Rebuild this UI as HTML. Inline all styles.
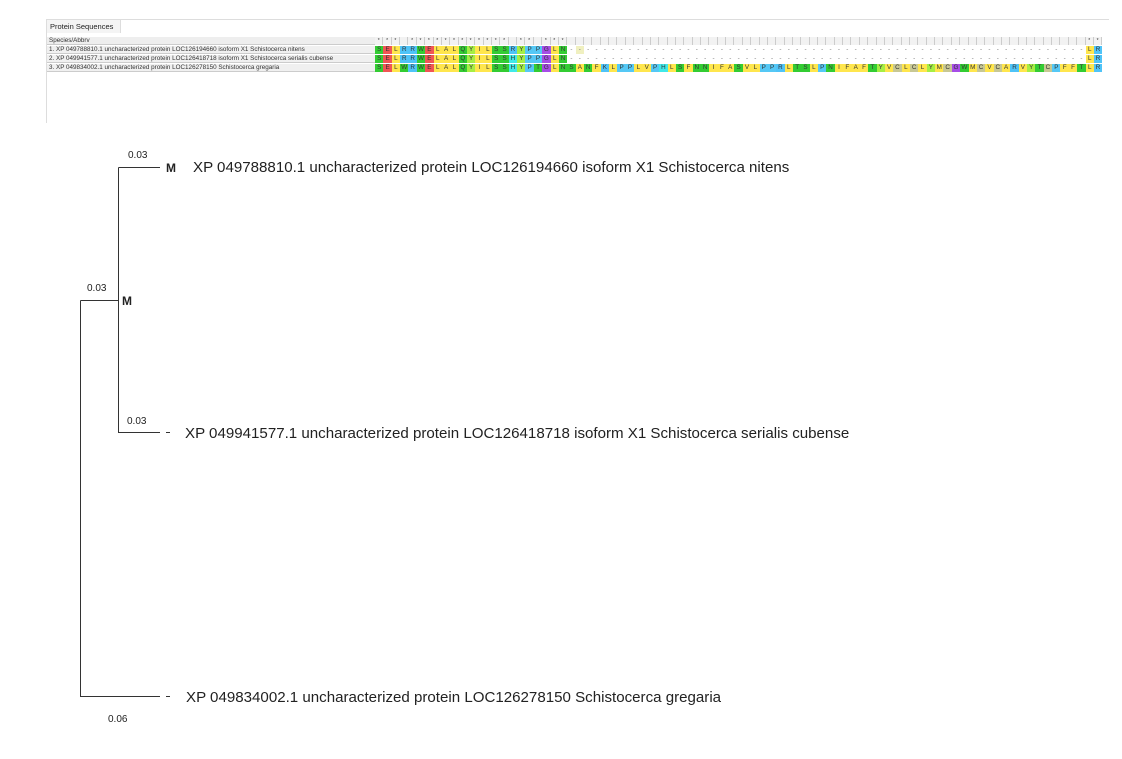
<!DOCTYPE html>
<html><head><meta charset="utf-8"><style>
body{margin:0;width:1122px;height:759px;background:#fff;position:relative;overflow:hidden;font-family:"Liberation Sans",sans-serif}
.panel{position:absolute;left:46px;top:19px;width:1062px;height:103px;border-top:1px solid #ddd;border-left:1px solid #ddd;background:#fff}
.tab{position:absolute;left:47px;top:20px;width:74px;height:13px;background:#f4f4f4;border-right:1px solid #ddd;font-size:7.5px;color:#222;line-height:13px;padding-left:3px;box-sizing:border-box}
.row{position:absolute;left:47px;height:8px;display:flex;font-size:6.3px;line-height:8px;color:#333}
.nm{width:328px;background:#f0f0f0;border-bottom:1px solid #ccc;padding-left:2px;box-sizing:border-box;white-space:nowrap;overflow:hidden}
.seq{display:flex}
.seq i{font-style:normal;width:8.37px;flex:none;text-align:center;display:block;color:#333}
.hd i{background:#f2f2f2;border-right:1px solid #ccc;box-sizing:border-box;font-size:5px}
.g{background:#33cc33}.r{background:#f05555}.y{background:#ffe64d}.b{background:#4fc3f7}.h{background:#40e8e8}.l{background:#a6ee44}.p{background:#55c8f5}.u{background:#a64de6}.c{background:#c8c894}.w{background:#fff;color:#777!important}.q{background:#f0f0c0;color:#777!important}
svg{position:absolute;left:0;top:0}
</style></head><body>
<div class="panel"></div>
<div class="tab">Protein Sequences</div>
<div class="row" style="top:37px"><div class="nm" style="background:#eee">Species/Abbrv</div><div class="seq hd"><i>*</i><i>*</i><i>*</i><i></i><i>*</i><i>*</i><i>*</i><i>*</i><i>*</i><i>*</i><i>*</i><i>*</i><i>*</i><i>*</i><i>*</i><i>*</i><i></i><i>*</i><i>*</i><i></i><i>*</i><i>*</i><i>*</i>
<i></i><i></i><i></i><i></i><i></i><i></i><i></i><i></i><i></i><i></i>
<i></i><i></i><i></i><i></i><i></i><i></i><i></i><i></i><i></i><i></i>
<i></i><i></i><i></i><i></i><i></i><i></i><i></i><i></i><i></i><i></i>
<i></i><i></i><i></i><i></i><i></i><i></i><i></i><i></i><i></i><i></i>
<i></i><i></i><i></i><i></i><i></i><i></i><i></i><i></i><i></i><i></i>
<i></i><i></i><i></i><i></i><i></i><i></i><i></i><i></i><i></i><i></i>
<i></i><i></i><i>*</i><i>*</i></div></div>
<div class="row" style="top:46px"><div class="nm">1. XP 049788810.1 uncharacterized protein LOC126194660 isoform X1 Schistocerca nitens</div><div class="seq"><i class=g>S</i><i class=r>E</i><i class=y>L</i><i class=b>R</i><i class=b>R</i><i class=g>W</i><i class=r>E</i><i class=y>L</i><i class=y>A</i><i class=y>L</i><i class=g>Q</i><i class=l>Y</i><i class=y>I</i><i class=y>L</i><i class=g>S</i><i class=g>S</i><i class=b>R</i><i class=l>Y</i><i class=p>P</i><i class=p>P</i><i class=u>G</i><i class=y>L</i><i class=g>N</i><i class=w>-</i><i class=q>-</i>
<i class=w>-</i><i class=w>-</i><i class=w>-</i><i class=w>-</i><i class=w>-</i><i class=w>-</i><i class=w>-</i><i class=w>-</i><i class=w>-</i><i class=w>-</i>
<i class=w>-</i><i class=w>-</i><i class=w>-</i><i class=w>-</i><i class=w>-</i><i class=w>-</i><i class=w>-</i><i class=w>-</i><i class=w>-</i><i class=w>-</i>
<i class=w>-</i><i class=w>-</i><i class=w>-</i><i class=w>-</i><i class=w>-</i><i class=w>-</i><i class=w>-</i><i class=w>-</i><i class=w>-</i><i class=w>-</i>
<i class=w>-</i><i class=w>-</i><i class=w>-</i><i class=w>-</i><i class=w>-</i><i class=w>-</i><i class=w>-</i><i class=w>-</i><i class=w>-</i><i class=w>-</i>
<i class=w>-</i><i class=w>-</i><i class=w>-</i><i class=w>-</i><i class=w>-</i><i class=w>-</i><i class=w>-</i><i class=w>-</i><i class=w>-</i><i class=w>-</i>
<i class=w>-</i><i class=w>-</i><i class=w>-</i><i class=w>-</i><i class=w>-</i><i class=w>-</i><i class=w>-</i><i class=w>-</i><i class=w>-</i><i class=w>-</i>
<i class=y>L</i><i class=b>R</i></div></div>
<div class="row" style="top:55px"><div class="nm">2. XP 049941577.1 uncharacterized protein LOC126418718 isoform X1 Schistocerca serialis cubense</div><div class="seq"><i class=g>S</i><i class=r>E</i><i class=y>L</i><i class=b>R</i><i class=b>R</i><i class=g>W</i><i class=r>E</i><i class=y>L</i><i class=y>A</i><i class=y>L</i><i class=g>Q</i><i class=l>Y</i><i class=y>I</i><i class=y>L</i><i class=g>S</i><i class=g>S</i><i class=h>H</i><i class=l>Y</i><i class=p>P</i><i class=p>P</i><i class=u>G</i><i class=y>L</i><i class=g>N</i><i class=w>-</i><i class=w>-</i>
<i class=w>-</i><i class=w>-</i><i class=w>-</i><i class=w>-</i><i class=w>-</i><i class=w>-</i><i class=w>-</i><i class=w>-</i><i class=w>-</i><i class=w>-</i>
<i class=w>-</i><i class=w>-</i><i class=w>-</i><i class=w>-</i><i class=w>-</i><i class=w>-</i><i class=w>-</i><i class=w>-</i><i class=w>-</i><i class=w>-</i>
<i class=w>-</i><i class=w>-</i><i class=w>-</i><i class=w>-</i><i class=w>-</i><i class=w>-</i><i class=w>-</i><i class=w>-</i><i class=w>-</i><i class=w>-</i>
<i class=w>-</i><i class=w>-</i><i class=w>-</i><i class=w>-</i><i class=w>-</i><i class=w>-</i><i class=w>-</i><i class=w>-</i><i class=w>-</i><i class=w>-</i>
<i class=w>-</i><i class=w>-</i><i class=w>-</i><i class=w>-</i><i class=w>-</i><i class=w>-</i><i class=w>-</i><i class=w>-</i><i class=w>-</i><i class=w>-</i>
<i class=w>-</i><i class=w>-</i><i class=w>-</i><i class=w>-</i><i class=w>-</i><i class=w>-</i><i class=w>-</i><i class=w>-</i><i class=w>-</i><i class=w>-</i>
<i class=y>L</i><i class=b>R</i></div></div>
<div class="row" style="top:64px"><div class="nm">3. XP 049834002.1 uncharacterized protein LOC126278150 Schistocerca gregaria</div><div class="seq"><i class=g>S</i><i class=r>E</i><i class=y>L</i><i class=g>W</i><i class=b>R</i><i class=g>W</i><i class=r>E</i><i class=y>L</i><i class=y>A</i><i class=y>L</i><i class=g>Q</i><i class=l>Y</i><i class=y>I</i><i class=y>L</i><i class=g>S</i><i class=g>S</i><i class=h>H</i><i class=l>Y</i><i class=p>P</i><i class=g>T</i><i class=u>G</i><i class=y>L</i><i class=g>N</i><i class=g>S</i><i class=y>A</i><i class=g>N</i><i class=y>F</i><i class=b>K</i><i class=y>L</i><i class=p>P</i><i class=p>P</i><i class=y>L</i><i class=y>V</i><i class=p>P</i><i class=h>H</i><i class=y>L</i><i class=g>S</i><i class=y>F</i><i class=g>N</i><i class=g>N</i><i class=y>I</i><i class=y>F</i><i class=y>A</i><i class=g>S</i><i class=y>V</i><i class=y>L</i><i class=p>P</i><i class=p>P</i><i class=b>R</i><i class=y>L</i><i class=g>T</i><i class=g>S</i><i class=y>L</i><i class=p>P</i><i class=g>N</i><i class=y>I</i><i class=y>F</i><i class=y>A</i><i class=y>F</i><i class=g>T</i><i class=l>Y</i><i class=y>V</i><i class=c>C</i><i class=y>L</i><i class=c>C</i><i class=y>L</i><i class=l>Y</i><i class=y>M</i><i class=c>C</i><i class=u>G</i><i class=g>W</i><i class=y>M</i><i class=c>C</i><i class=y>V</i><i class=c>C</i><i class=y>A</i><i class=b>R</i><i class=y>V</i><i class=l>Y</i><i class=g>T</i><i class=c>C</i><i class=p>P</i><i class=y>F</i><i class=y>F</i><i class=g>T</i><i class=y>L</i><i class=b>R</i></div></div>

<svg width="1122" height="759" style="top:0">
<g stroke="#333" stroke-width="1" fill="none">
<path d="M118.5 167.5H160M118.5 167.5V432.5H160M80.5 300.5H118.5M80.5 300.5V696.5H160"/>
<path d="M166 432.5H170M166 696.5H170"/>
</g>
<g font-family="Liberation Sans, sans-serif" fill="#222">
<text x="128" y="158" font-size="10">0.03</text>
<text x="87" y="291" font-size="10">0.03</text>
<text x="127" y="424" font-size="10">0.03</text>
<text x="108" y="722" font-size="10">0.06</text>
<text x="166" y="172" font-size="12" font-weight="bold">M</text>
<text x="122" y="305" font-size="12" font-weight="bold">M</text>
<text x="193" y="172" font-size="15.1">XP 049788810.1 uncharacterized protein LOC126194660 isoform X1 Schistocerca nitens</text>
<text x="185" y="438" font-size="15.1">XP 049941577.1 uncharacterized protein LOC126418718 isoform X1 Schistocerca serialis cubense</text>
<text x="186" y="702" font-size="15.1">XP 049834002.1 uncharacterized protein LOC126278150 Schistocerca gregaria</text>
</g>
</svg>
</body></html>
